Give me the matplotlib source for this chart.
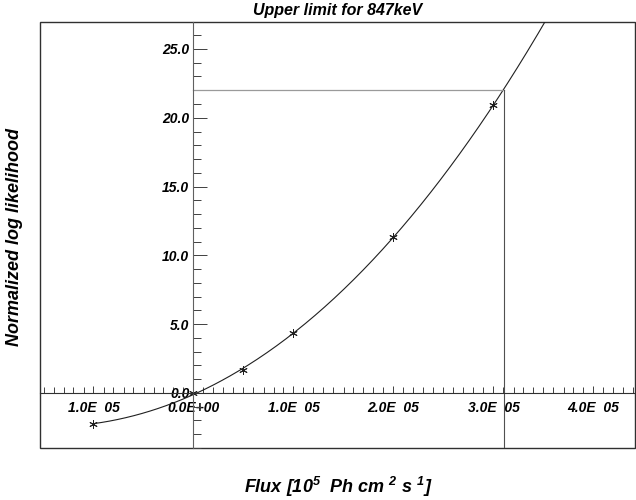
import numpy as np
import matplotlib
matplotlib.use("Agg")
import matplotlib.pyplot as plt
from matplotlib.patches import Rectangle
from matplotlib.ticker import MultipleLocator, FixedLocator, FixedFormatter

plt.rcParams['font.family'] = ['Liberation Sans', 'DejaVu Sans']
plt.rcParams['mathtext.fontset'] = 'custom'
plt.rcParams['mathtext.rm'] = 'Liberation Sans:bold:italic'
plt.rcParams['mathtext.it'] = 'Liberation Sans:bold:italic'

# datos
flux = [-1.0e-5, 0.0, 0.5e-5, 1.0e-5, 2.0e-5, 3.0e-5]
loglike = [-2.25, 0.0, 1.69, 4.36, 11.36, 20.93]
upper_flux = 3.105e-5
upper_level = 22.0

xticks = [-1e-5, 0.0, 1e-5, 2e-5, 3e-5, 4e-5]
xlabels = ['1.0E  05', '0.0E+00', '1.0E  05', '2.0E  05', '3.0E  05', '4.0E  05']
yticks = [0, 5, 10, 15, 20, 25]
ylabels = ['0.0', '5.0', '10.0', '15.0', '20.0', '25.0']

fig = plt.figure(figsize=(6.36, 5.0), dpi=100)
ax = fig.add_axes([40/636, 52/500, 595/636, 426/500])
ax.set_xlim(-1.535e-5, 4.415e-5)
ax.set_ylim(-4, 26.96)

# curva ajustada
coef = np.polyfit(flux, loglike, 3)
xx = np.linspace(flux[0], 3.8e-5, 300)
ax.plot(xx, np.polyval(coef, xx), color='#202020', lw=0.8)
ax.plot(flux, loglike, ls='none', marker=(6, 2, 0), ms=6, mew=0.7, color='#202020')

# limite superior
y0 = ax.get_ylim()[0]
ax.plot([0, upper_flux], [upper_level, upper_level], color='#9a9a9a', lw=0.9)
ax.plot([upper_flux, upper_flux], [upper_level, y0], color='#505050', lw=0.8)

# ejes en cero
for s in ['top', 'right']:
    ax.spines[s].set_visible(False)
ax.spines['left'].set_position(('data', 0))
ax.spines['bottom'].set_position(('data', 0))
ax.spines['left'].set_color('#606060')
ax.spines['bottom'].set_color('#303030')
ax.spines['left'].set_linewidth(0.8)
ax.spines['bottom'].set_linewidth(0.8)
ax.add_patch(Rectangle((0, 0), 1, 1, transform=ax.transAxes, fill=False,
                       ec='#303030', lw=1.0, clip_on=False))

ax.xaxis.set_major_locator(FixedLocator(xticks))
ax.xaxis.set_major_formatter(FixedFormatter(xlabels))
ax.xaxis.set_minor_locator(MultipleLocator(1e-6))
ax.yaxis.set_major_locator(FixedLocator(yticks))
ax.yaxis.set_major_formatter(FixedFormatter(ylabels))
ax.yaxis.set_minor_locator(MultipleLocator(1))

ax.tick_params(axis='x', which='major', direction='in', length=5, width=0.7,
               color='#404040', pad=6)
ax.tick_params(axis='x', which='minor', direction='in', length=4, width=0.7,
               color='#404040')
ax.tick_params(axis='y', which='major', direction='in', length=10, width=0.7,
               color='#404040', pad=3)
ax.tick_params(axis='y', which='minor', direction='in', length=6, width=0.7,
               color='#404040')
for lab in ax.get_xticklabels() + ax.get_yticklabels():
    lab.set_fontsize(10)
    lab.set_fontweight('bold')
    lab.set_fontstyle('italic')

ax.set_title('Upper limit for 847keV', fontsize=11.5, fontweight='bold',
             fontstyle='italic', pad=5)
fig.text(338/636, 1 - 487/500, 'Flux [10$^{5}$  Ph cm $^{2}$ s $^{1}$]',
         ha='center', va='center', fontsize=13, fontweight='bold', fontstyle='italic')
fig.text(15/636, 1 - 237/500, 'Normalized log likelihood', rotation=90,
         ha='center', va='center', fontsize=13, fontweight='bold', fontstyle='italic')

fig.savefig('out.png', dpi=100)
